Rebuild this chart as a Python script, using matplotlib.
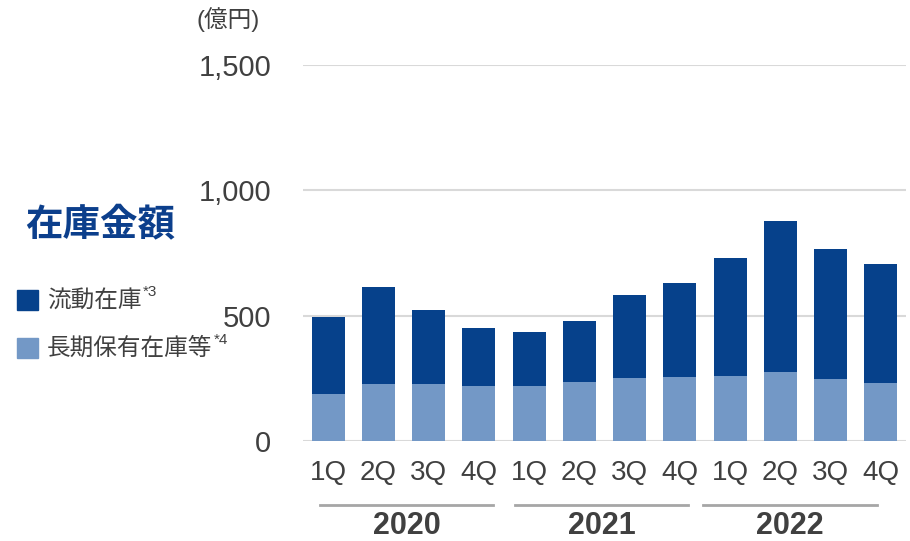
import numpy as np
import matplotlib.pyplot as plt

W, H = 910, 541

quarters = ["1Q", "2Q", "3Q", "4Q"] * 3
years = ["2020", "2021", "2022"]
# 長期保有在庫等 (下段) と 合計
long_term = [188, 228, 228, 220, 219, 236, 252, 256, 259, 275, 247, 233]
total = [495, 616, 523, 451, 436, 479, 583, 631, 731, 879, 767, 707]
current = [t - l for t, l in zip(total, long_term)]

DARK = "#06418b"
LIGHT = "#7398c6"
GREY = "#404040"
LATIN = ["Liberation Sans", "Noto Sans CJK JP"]
CJK = ["Noto Sans CJK JP", "Liberation Sans"]

fig = plt.figure(figsize=(W / 100, H / 100), dpi=100)
ax = fig.add_axes([303 / W, 1 - 441 / H, 603 / W, (441 - 65) / H])

x = np.arange(len(quarters))
ax.bar(x, long_term, width=0.66, color=LIGHT, zorder=3)
ax.bar(x, current, bottom=long_term, width=0.66, color=DARK, zorder=3)

ax.set_xlim(-0.5, len(quarters) - 0.5)
ax.set_ylim(0, 1500)
ax.set_yticks([0, 500, 1000, 1500])
ax.set_yticklabels(["0", "500", "1,000", "1,500"], family=LATIN, fontsize=21, color=GREY)
ax.set_xticks(x)
ax.set_xticklabels(quarters, family=LATIN, fontsize=20, color=GREY)
ax.tick_params(axis="y", length=0, pad=23)
ax.tick_params(axis="x", length=0, pad=14)
for s in ax.spines.values():
    s.set_visible(False)
ax.grid(axis="y", color="#d9d9d9", lw=1.5, zorder=0)

# 年の区切り線とラベル
spans = [(-0.16, 3.29), (3.71, 7.17), (7.46, 10.92)]
trans = ax.get_xaxis_transform()
for (a, b), yr in zip(spans, years):
    ax.plot([a, b], [-0.17, -0.17], transform=trans, color="#a6a6a6", lw=2, clip_on=False)
    ax.text((a + b) / 2, -0.225, yr, transform=trans, ha="center", va="center",
            fontsize=22, fontweight="bold", color=GREY, family=LATIN)

fig.text(197 / W, 1 - 20 / H, "(億円)", ha="left", va="center", fontsize=17,
         color=GREY, family=LATIN)

# 左側のタイトルと凡例
fig.text(25 / W, 1 - 225 / H, "在庫金額", ha="left", va="center", fontsize=27,
         fontweight="bold", color="#0c3f8c", family=CJK)
items = [("流動在庫", "*3", DARK, 300), ("長期保有在庫等", "*4", LIGHT, 348)]
for label, note, col, yc in items:
    fig.patches.append(plt.Rectangle((17 / W, 1 - (yc + 10) / H), 21 / W, 20 / H,
                                     transform=fig.transFigure, color=col))
    t = fig.text(47 / W, 1 - yc / H, label, ha="left", va="center", fontsize=17,
                 color=GREY, family=CJK)
    fig.canvas.draw()
    bb = t.get_window_extent()
    fig.text((bb.x1 + 1) / W, 1 - (yc - 8) / H, note, ha="left", va="center",
             fontsize=11, color=GREY, family=LATIN)

fig.savefig("out.png", dpi=100)
